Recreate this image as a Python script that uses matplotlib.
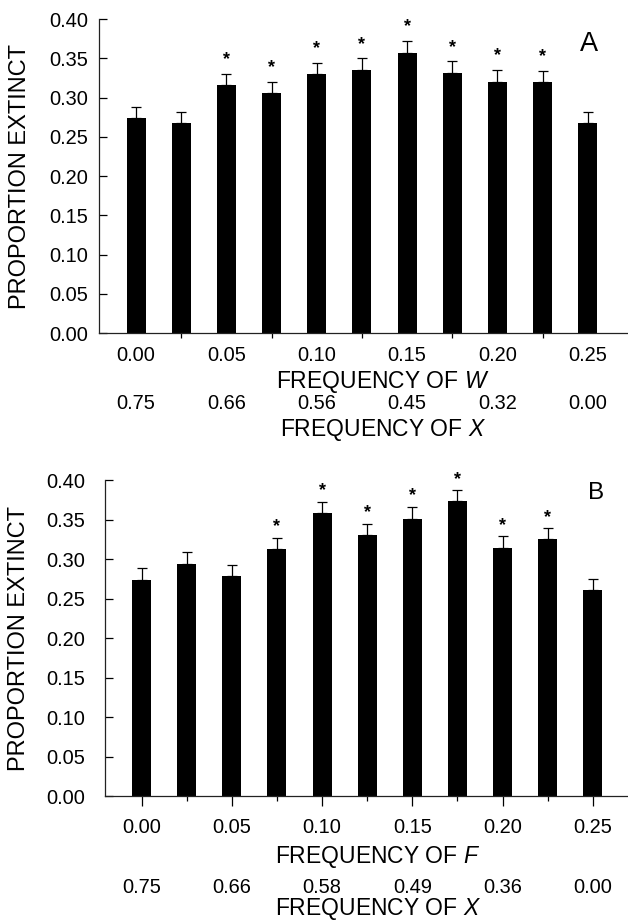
import matplotlib
matplotlib.use("Agg")
import matplotlib.pyplot as plt
import numpy as np

plt.rcParams['font.family'] = ['Liberation Sans', 'DejaVu Sans']
plt.rcParams['mathtext.fontset'] = 'custom'
plt.rcParams['mathtext.rm'] = 'Liberation Sans'
plt.rcParams['mathtext.it'] = 'Liberation Sans:italic'

# panel A: frequency of W
a_values = [0.274, 0.267, 0.316, 0.306, 0.330, 0.335, 0.357, 0.331, 0.320, 0.320, 0.267]
a_se = [0.014, 0.015, 0.0145, 0.014, 0.014, 0.015, 0.015, 0.015, 0.015, 0.014, 0.015]
a_sig = [False, False, True, True, True, True, True, True, True, True, False]
a_xlabels = ["0.75", "0.66", "0.56", "0.45", "0.32", "0.00"]

# panel B: frequency of F
b_values = [0.273, 0.294, 0.278, 0.313, 0.358, 0.330, 0.351, 0.373, 0.314, 0.325, 0.261]
b_se = [0.015, 0.0145, 0.015, 0.014, 0.0145, 0.0145, 0.015, 0.014, 0.015, 0.014, 0.014]
b_sig = [False, False, False, True, True, True, True, True, True, True, False]
b_xlabels = ["0.75", "0.66", "0.58", "0.49", "0.36", "0.00"]

freq_labels = ["0.00", "0.05", "0.10", "0.15", "0.20", "0.25"]
yticks = [0.0, 0.05, 0.10, 0.15, 0.20, 0.25, 0.30, 0.35, 0.40]

W, H = 628, 922
fig = plt.figure(figsize=(W / 100, H / 100), dpi=100)


def panel(rect, xlim, values, se, sig, xrow2, letter, varname, opts):
    ax = fig.add_axes(rect)
    x = np.arange(len(values))
    ax.bar(x, values, width=0.42, color='black', zorder=2)
    ax.errorbar(x, values, yerr=[np.zeros(len(se)), se], fmt='none',
                ecolor='black', elinewidth=0.9, capsize=3.5, capthick=0.9, zorder=1)
    for i in range(len(values)):
        if sig[i]:
            ax.text(i, values[i] + se[i] + opts['star_pad'], '*', ha='center',
                    va='bottom', fontsize=13, fontweight='bold')
    ax.set_ylim(0, 0.40)
    ax.set_xlim(*xlim)
    ax.set_yticks(yticks)
    ax.set_yticklabels(["%.2f" % v for v in yticks], fontsize=14.4)
    ax.set_xticks(x[::2])
    ax.set_xticklabels(freq_labels, fontsize=14.4)
    ax.set_xticks(x[1::2], minor=True)
    ax.tick_params(axis='y', direction='in', length=5.8, width=0.9, pad=opts['ypad'])
    ax.tick_params(axis='x', which='major', direction='out', length=opts['major_len'],
                   width=0.9, pad=opts['xpad'] - opts['major_len'])
    ax.tick_params(axis='x', which='minor', direction='out', length=3.5, width=0.9)
    for s in ['top', 'right']:
        ax.spines[s].set_visible(False)
    for s in ['left', 'bottom']:
        ax.spines[s].set_linewidth(0.9)
        ax.spines[s].set_color('#222222')
    ax.set_ylabel("PROPORTION EXTINCT", fontsize=17)
    ax.yaxis.label.set_verticalalignment('center')
    ax.yaxis.set_label_coords(opts['ylab_x'], 0.5)
    ax.set_xlabel(r"FREQUENCY OF $\mathit{" + varname + "}$", fontsize=16.5)
    ax.xaxis.label.set_verticalalignment('center')
    ax.xaxis.set_label_coords(opts['lab_x'], opts['rows'][0])
    tr = ax.get_xaxis_transform()
    for xi, lab in zip(x[::2], xrow2):
        ax.text(xi, opts['rows'][1], lab, transform=tr, ha='center', va='center',
                fontsize=14.4)
    ax.text(opts['lab_x'], opts['rows'][2], r"FREQUENCY OF $\mathit{X}$",
            transform=ax.transAxes, ha='center', va='center', fontsize=16.5)
    ax.text(opts['letter_xy'][0], opts['letter_xy'][1], letter, transform=ax.transAxes,
            ha='center', va='center', fontsize=opts['letter_size'])
    return ax


panel([99 / W, 1 - 333 / H, 529 / W, 314 / H], (-0.82, 10.89),
      a_values, a_se, a_sig, a_xlabels, "A", "W",
      dict(star_pad=0.007, ypad=8, major_len=0, xpad=9, ylab_x=-0.149,
           lab_x=0.536, rows=(-0.156, -0.226, -0.3105),
           letter_xy=(0.927, 0.92), letter_size=19.5))
panel([105 / W, 1 - 796 / H, 523 / W, 316 / H], (-0.81, 10.78),
      b_values, b_se, b_sig, b_xlabels, "B", "F",
      dict(star_pad=0.003, ypad=14.4, major_len=7.2, xpad=16, ylab_x=-0.164,
           lab_x=0.522, rows=(-0.192, -0.288, -0.357),
           letter_xy=(0.939, 0.959), letter_size=17.5))

fig.savefig("out.png", dpi=100)
